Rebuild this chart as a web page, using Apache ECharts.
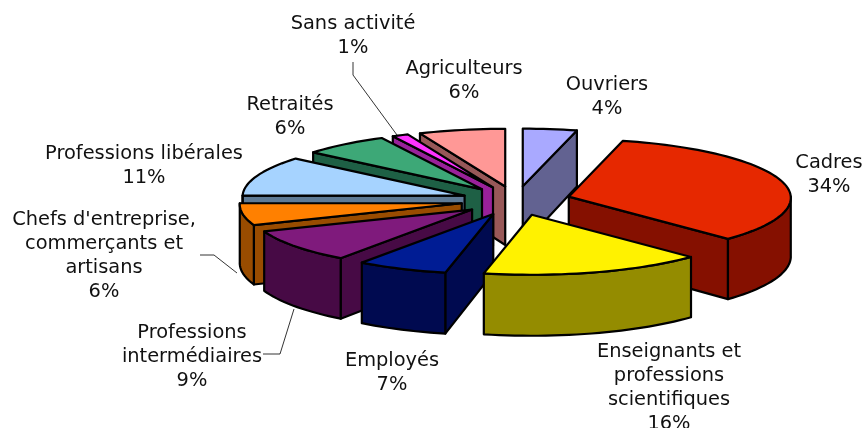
<!DOCTYPE html>
<html><head><meta charset="utf-8">
<style>html,body{margin:0;padding:0;background:#fff}#c{width:866px;height:428px}</style>
<script src="https://cdn.jsdelivr.net/npm/echarts@6/dist/echarts.min.js"></script>
</head><body><div id="c"></div>
<script>
// Slice values (%) in clockwise order from 12 o'clock
const categories = ['Ouvriers','Cadres','Enseignants et\nprofessions\nscientifiques','Employés','Professions\nintermédiaires',"Chefs d'entreprise,\ncommerçants et\nartisans",'Professions libérales','Retraités','Sans activité','Agriculteurs'];
const values = [4.0,33.5,15.9,6.5,9.1,6.0,11.0,6.4,1.2,6.4];
const topColors = ['#A9A9FF','#E62800','#FFF200','#001C94','#7F1A7C','#FF8000','#A6D3FF','#3DA877','#FF33FF','#FF9896'];
const wallColors = ['#626291','#851000','#948C00','#000A50','#470A45','#994C00','#5F7B96','#1E6045','#99219A','#985858'];
const drawOrder = [0,9,8,7,6,1,5,4,3,2];
const labelCenters = [[607,85],[829,163],[669,352],[392,361],[192,333],[104,220],[144,154],[290,105],[353,24],[464,69]];
const leaderLines = [[[353,62],[353,75],[397,135]],[[200,255],[214,255],[237,273]],[[263,354],[280,354],[294,309]]];

const pie = {cx:516, cy:200.5, r:222, tilt:0.265, explode:55, depth:58.5, persp:0.02, perspDepth:2.5};
const rad = d => d*Math.PI/180;
const total = values.reduce((a,b)=>a+b,0);
let cum = 0;
const slices = values.map((v,i)=>{const a=cum/total*360; cum+=v; return {i, a, b:cum/total*360};});
const proj = (ox,oy,r,t,dz)=>{const c=Math.cos(rad(t));const f=1-pie.persp*c;return [ox+r*f*Math.sin(rad(t)), oy-pie.tilt*r*f*c+dz*(1-pie.perspDepth/pie.depth*c)];};
const LW = 2.2;
function poly(points,fill){return {type:'polygon',shape:{points},style:{fill,stroke:'#000',lineWidth:LW,lineJoin:'round'}};}
function arc(ox,oy,a,b,dz){const n=Math.max(2,Math.ceil((b-a)/2));const p=[];for(let k=0;k<=n;k++)p.push(proj(ox,oy,pie.r,a+(b-a)*k/n,dz));return p;}
const data = drawOrder.map(i=>[slices[i].a,slices[i].b,i]);
const series = [{
  type:'custom',coordinateSystem:'none',silent:true,animation:false,clip:false,
  data,
  renderItem(params,api){
    const a=api.value(0),b=api.value(1),i=api.value(2);
    const m=(a+b)/2;
    const [ox,oy]=proj(pie.cx,pie.cy,pie.explode,m,0);
    const d=pie.depth;
    const kids=[];
    const face=t=>{const p=proj(ox,oy,pie.r,t,0),q=proj(ox,oy,pie.r,t,d);return poly([[ox,oy],p,q,[ox,oy+d]],wallColors[i]);};
    if(Math.sin(rad(a))<-1e-6) kids.push(face(a));
    if(Math.sin(rad(b))>1e-6) kids.push(face(b));
    const w0=Math.max(a,90),w1=Math.min(b,270);
    if(w1>w0){const up=arc(ox,oy,w0,w1,0),dn=arc(ox,oy,w0,w1,d).reverse();kids.push(poly(up.concat(dn),wallColors[i]));}
    kids.push(poly([[ox,oy]].concat(arc(ox,oy,a,b,0)),topColors[i]));
    return {type:'group',children:kids};
  }
}];
const font='"DejaVu Sans"';
const graphic=[];
leaderLines.forEach(pts=>graphic.push({type:'polyline',shape:{points:pts},style:{fill:null,stroke:'#000',lineWidth:0.8},silent:true}));
categories.forEach((c,i)=>{
  const lines=c.split('\n').concat([Math.round(values[i])+'%']);
  lines.forEach((t,j)=>graphic.push({type:'text',x:labelCenters[i][0],y:labelCenters[i][1]+j*24,silent:true,
    style:{text:t,font:'19.4px '+font,fill:'#111',align:'center',verticalAlign:'middle'}}));
});
const chart=echarts.init(document.getElementById('c'),null,{renderer:'canvas'});
chart.setOption({animation:false,backgroundColor:'#fff',series,graphic});
</script></body></html>
